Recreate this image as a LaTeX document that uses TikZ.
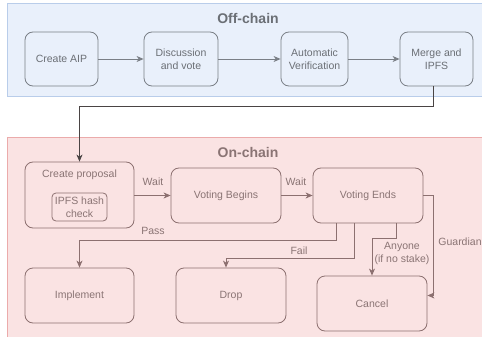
\documentclass[tikz,border=0pt]{standalone}
\usepackage{fontspec}
\setmainfont{Liberation Sans}
\usetikzlibrary{arrows.meta,calc}
\definecolor{offfill}{HTML}{E9F0FB}
\definecolor{offstroke}{HTML}{B9CDEA}
\definecolor{offbox}{HTML}{7A7F86}
\definecolor{offtext}{HTML}{6B6F75}
\definecolor{onfill}{HTML}{FAE3E3}
\definecolor{onstroke}{HTML}{EBABAB}
\definecolor{onbox}{HTML}{8C7070}
\definecolor{ontext}{HTML}{8A7474}
\definecolor{linkcol}{HTML}{4A4444}
\tikzset{
  offbx/.style={draw=offbox, line width=0.8pt, rounded corners=8pt, align=center, text=offtext,
    font=\fontsize{10.5}{13}\selectfont, inner sep=0pt},
  onbx/.style={draw=onbox, line width=0.8pt, rounded corners=8pt, align=center, text=ontext,
    font=\fontsize{10.5}{13}\selectfont, inner sep=0pt},
  offarr/.style={draw=offbox, line width=0.9pt, -{Stealth[length=7pt,width=6pt,inset=2pt]}},
  onarr/.style={draw=onbox, line width=0.9pt, -{Stealth[length=7pt,width=6pt,inset=2pt]}},
  lbl/.style={text=ontext, font=\fontsize{10.5}{13}\selectfont, align=center, inner sep=0pt},
  ttl/.style={font=\fontsize{14}{16}\selectfont\bfseries, inner sep=0pt}
}
\begin{document}
\begin{tikzpicture}[x=1pt,y=-1pt]
\useasboundingbox (0,0) rectangle (482,337);
\clip (0,0) rectangle (482,337);
% containers
\path[fill=offfill, draw=offstroke, line width=0.8pt] (7,3.5) rectangle (490,96);
\node[ttl, text=offtext] (offt) at (248,18) {Off-chain};
\path[fill=onfill, draw=onstroke, line width=0.8pt] (7,137) rectangle (490,345);
\node[ttl, text=ontext] (ont) at (248,152) {On-chain};
% off-chain boxes
\node[offbx, minimum width=73pt, minimum height=54pt] (aip) at (61.5,59) {Create AIP};
\node[offbx, minimum width=74pt, minimum height=54pt] (disc) at (181,59) {Discussion\\and vote};
\node[offbx, minimum width=67pt, minimum height=54pt] (auto) at (314.5,59) {Automatic\\Verification};
\node[offbx, minimum width=73pt, minimum height=54pt] (merge) at (436.5,59) {Merge and\\IPFS};
\draw[offarr] (aip) -- (disc);
\draw[offarr] (disc) -- (auto);
\draw[offarr] (auto) -- (merge);
% on-chain boxes
\node[onbx, minimum width=109pt, minimum height=66pt] (cp) at (79.5,195) {};
\node[lbl] (cpt) at (79.5,175) {Create proposal};
\node[onbx, rounded corners=4pt, minimum width=55pt, minimum height=28pt] (ipfs) at (79.5,207) {IPFS hash\\check};
\node[onbx, minimum width=110pt, minimum height=55pt] (vb) at (226,195.5) {Voting Begins};
\node[onbx, minimum width=110pt, minimum height=55pt] (ve) at (368,195.5) {Voting Ends};
\node[onbx, minimum width=109pt, minimum height=55pt] (impl) at (79.5,295.5) {Implement};
\node[onbx, minimum width=110pt, minimum height=55pt] (drop) at (231,295.5) {Drop};
\node[onbx, minimum width=110pt, minimum height=55pt] (cancel) at (372,303.5) {Cancel};
% connectors
\draw[line width=0.9pt, draw=linkcol, -{Stealth[length=7pt,width=6pt,inset=2pt]}]
  ([xshift=-3.5pt]merge.south) |- (cp.north |- 0,106) -- (cp.north);
\draw[onarr] (cp.east |- vb.west) -- (vb.west);
\draw[onarr] (vb) -- (ve);
\draw[onarr] ([xshift=-32pt]ve.south) |- (impl.north |- 0,240) -- (impl.north);
\draw[onarr] ([xshift=-14pt]ve.south) |- ([xshift=-5pt]drop.north |- 0,258) -- ([xshift=-5pt]drop.north);
\draw[onarr] ([xshift=28pt]ve.south) |- (cancel.north |- 0,238) -- (cancel.north);
\draw[onarr] (ve.east) -- ++(10,0) |- ([yshift=8pt]cancel.east);
% labels
\node[lbl] (w1) at (153,182) {Wait};
\node[lbl] (w2) at (296,182) {Wait};
\node[lbl] (pass) at (153,231) {Pass};
\node[lbl] (fail) at (299,251) {Fail};
\node[lbl] (any) at (402,253.5) {Anyone\\(if no stake)};
\node[lbl] (guard) at (460,242) {Guardian};
\end{tikzpicture}
\end{document}
